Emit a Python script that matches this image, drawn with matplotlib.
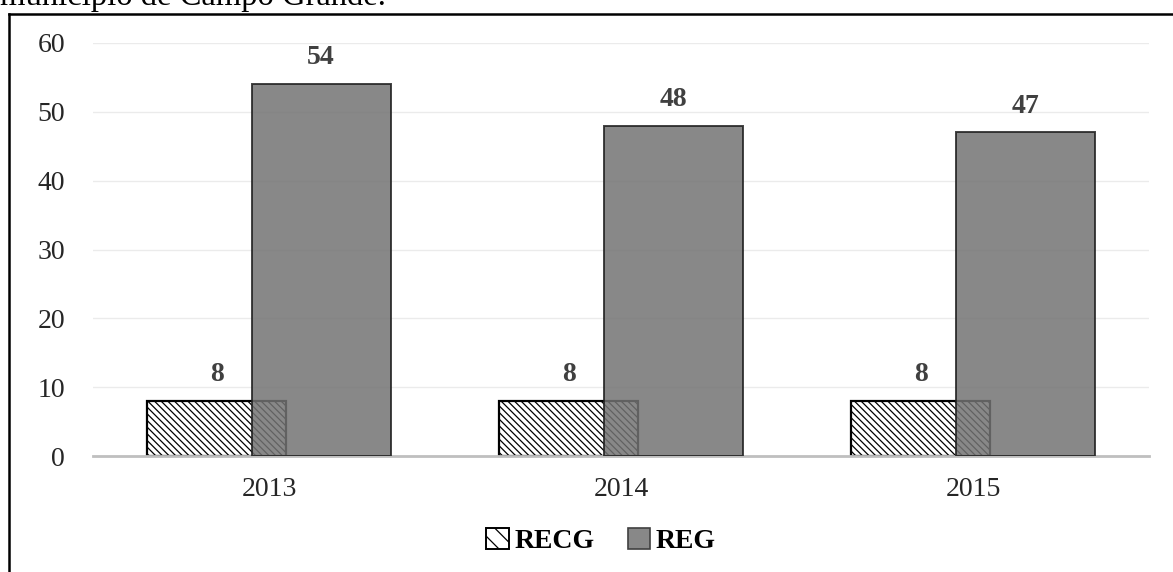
import numpy as np
import matplotlib.pyplot as plt
from matplotlib.lines import Line2D
from matplotlib.patches import Patch

# Valores por ano
anos = ['2013', '2014', '2015']
recg = [8, 8, 8]
reg = [54, 48, 47]

plt.rcParams['font.family'] = 'Liberation Serif'
plt.rcParams['hatch.color'] = '#8a8a8a'
plt.rcParams['hatch.linewidth'] = 0.9

W, H = 1173, 572
fig = plt.figure(figsize=(W / 100, H / 100), dpi=100)
ax = fig.add_axes([93 / W, 1 - 456 / H, (1149 - 93) / W, (456 - 43) / H])

x = np.arange(len(anos))
largura = 0.395
desloc = 0.148
hachura = '\\' * 5

b1 = ax.bar(x - desloc, recg, largura, facecolor='white', edgecolor='black',
            linewidth=1.6, hatch=hachura, zorder=2, label='RECG')
b2 = ax.bar(x + desloc, reg, largura, facecolor='#737373', edgecolor='#202020',
            linewidth=1.4, alpha=0.85, zorder=3, label='REG')

for barras, vals in [(b1, recg), (b2, reg)]:
    for r, v in zip(barras, vals):
        ax.annotate(str(v), (r.get_x() + r.get_width() / 2, v),
                    xytext=(0, 19), textcoords='offset points',
                    ha='center', va='center', fontsize=20, fontweight='bold',
                    color='#404040', zorder=5)

ax.set_xlim(-0.5, 2.5)
ax.set_ylim(0, 60)
ax.set_yticks(range(0, 61, 10))
ax.set_xticks(x)
ax.set_xticklabels(anos)
ax.tick_params(axis='y', length=0, pad=20, labelsize=20, labelcolor='#262626')
ax.tick_params(axis='x', length=0, pad=15, labelsize=20, labelcolor='#262626')
ax.grid(axis='y', color='#ebebeb', linewidth=1.0, zorder=0)
ax.set_axisbelow(True)
for s in ['top', 'right', 'left']:
    ax.spines[s].set_visible(False)
ax.spines['bottom'].set_color('#bfbfbf')
ax.spines['bottom'].set_linewidth(2.0)

handles = [Patch(facecolor='white', edgecolor='black', hatch='\\\\', linewidth=1.4),
           Patch(facecolor='#888888', edgecolor='#404040', linewidth=1.2)]
fig.legend(handles, ['RECG', 'REG'], loc='center', bbox_to_anchor=(601 / W, 1 - 541 / H),
           ncol=2, frameon=False, handlelength=0.8, handleheight=0.8,
           handletextpad=0.2, columnspacing=1.2,
           prop={'family': 'Liberation Serif', 'weight': 'bold', 'size': 20})

# moldura da figura
fig.add_artist(Line2D([9 / W, 9 / W], [0, 1 - 13.5 / H], transform=fig.transFigure,
                      color='black', linewidth=1.8))
fig.add_artist(Line2D([9 / W, 1], [1 - 13.5 / H, 1 - 13.5 / H], transform=fig.transFigure,
                      color='black', linewidth=1.8))

fig.text(0, 1 - 5 / H, 'município de Campo Grande.', fontsize=23.5,
         ha='left', va='baseline', color='black')

fig.savefig('out.png', dpi=100)
